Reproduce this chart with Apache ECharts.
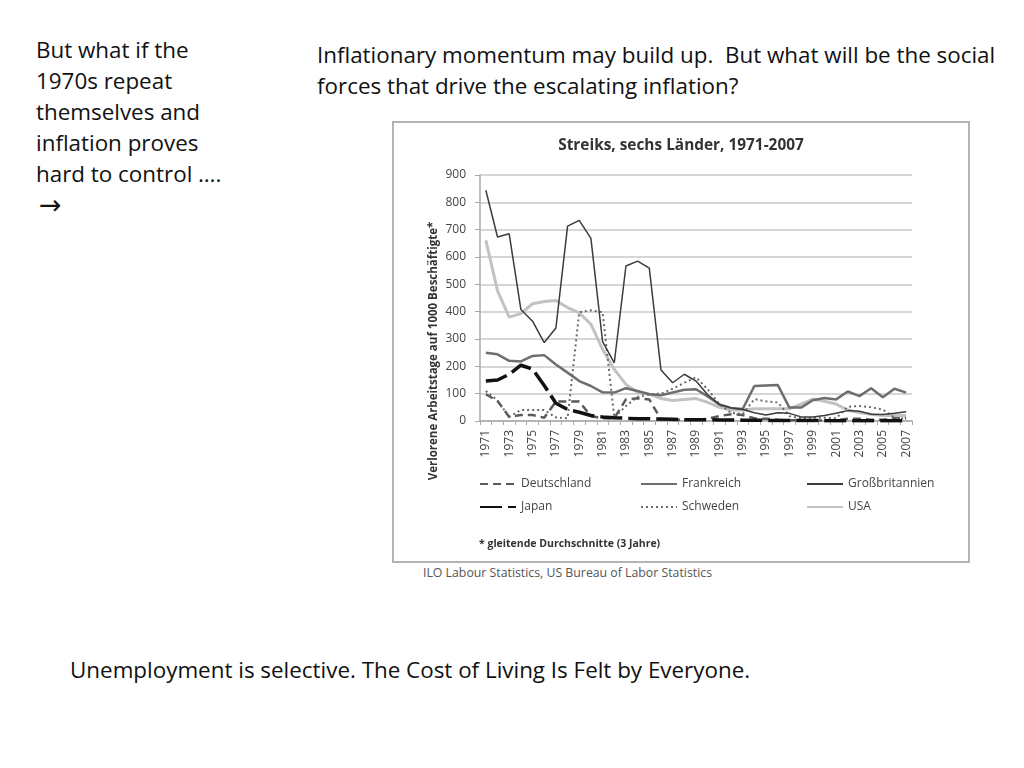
<!DOCTYPE html>
<html>
<head>
<meta charset="utf-8">
<script src="https://cdn.jsdelivr.net/npm/echarts@6/dist/echarts.min.js"></script>
<style>
html,body{margin:0;padding:0;background:#fff;width:1024px;height:768px;overflow:hidden;font-family:"Open Sans",sans-serif;color:#111;}
.t{position:absolute;font-size:22.4px;line-height:31px;white-space:nowrap;}
.arr{font-family:"DejaVu Sans",sans-serif;font-size:27px;position:relative;left:3px;}
#box{position:absolute;left:392px;top:121px;width:574px;height:438px;border:2px solid #b4b4b4;}
#chart{width:574px;height:438px;}
#src{position:absolute;left:423px;top:564px;font-size:12.3px;color:#555;}
</style>
</head>
<body>
<div class="t" style="left:36px;top:34px;">But what if the<br>1970s repeat<br>themselves and<br>inflation proves<br>hard to control ….<br><span class="arr">&#8594;</span></div>
<div class="t" style="left:317px;top:39px;">Inflationary momentum may build up.&nbsp; But what will be the social<br>forces that drive the escalating inflation?</div>
<div class="t" style="left:70px;top:654px;">Unemployment is selective. The Cost of Living Is Felt by Everyone.</div>
<div id="box"><div id="chart"></div></div>
<div id="src">ILO Labour Statistics, US Bureau of Labor Statistics</div>
<script>
const years = ['1971','1972','1973','1974','1975','1976','1977','1978','1979','1980','1981','1982','1983','1984','1985','1986','1987','1988','1989','1990','1991','1992','1993','1994','1995','1996','1997','1998','1999','2000','2001','2002','2003','2004','2005','2006','2007'];
const deutschland = [98,73,15,22,22,12,71,71,71,18,10,10,79,83,79,6,5,5,5,8,18,25,22,10,8,5,3,2,2,2,3,8,8,5,5,10,10];
const frankreich = [250,244,220,218,238,241,207,177,146,128,105,104,120,110,98,94,104,114,116,90,60,48,44,128,130,132,49,49,76,84,79,108,91,120,87,118,104];
const grossbritannien = [844,673,685,408,365,287,340,713,734,668,290,213,567,585,559,187,140,171,146,96,61,48,42,30,22,30,28,15,15,20,28,38,36,25,24,28,34];
const japan = [146,150,171,204,190,130,65,42,32,20,15,12,10,8,8,7,6,5,5,5,4,4,3,3,2,2,2,2,2,1,1,1,1,1,1,1,1];
const schweden = [110,75,15,40,40,40,13,10,398,405,398,12,55,88,98,100,118,140,160,116,62,30,25,80,72,68,18,10,12,12,10,52,55,50,42,12,8];
const usa = [661,476,380,393,429,437,441,415,396,354,262,189,134,104,98,82,75,79,82,68,50,40,40,45,45,45,45,62,80,72,62,40,30,25,20,20,20];
const yTicks = [0,100,200,300,400,500,600,700,800,900];

const chart = echarts.init(document.getElementById('chart'));
const F = '"Open Sans", sans-serif';
function s(name, data, color, width, type, z){
  return {name, type:'line', data, symbol:'none', z:z||2, lineStyle:{color, width, type}, itemStyle:{color}};
}
const legendBase = {orient:'vertical', padding:0, itemWidth:36, itemHeight:10, itemGap:11,
  itemStyle:{color:'rgba(0,0,0,0)', borderWidth:0, opacity:0},
  textStyle:{fontFamily:F, fontSize:12, color:'#444'}};
chart.setOption({
  animation:false,
  title:{text:'Streiks, sechs Länder, 1971-2007', left:'center', top:10,
    textStyle:{fontFamily:F, fontSize:15.4, fontWeight:'bold', color:'#333'}},
  grid:{left:86, right:56, top:52, height:246},
  xAxis:{type:'category', boundaryGap:true, data:years,
    axisLine:{lineStyle:{color:'#aaa', width:1.5}},
    axisTick:{show:true, interval:0, length:4, lineStyle:{color:'#aaa'}},
    axisLabel:{interval:1, rotate:90, margin:9, fontFamily:F, fontSize:12, color:'#444'}},
  yAxis:{type:'value', min:0, max:900, interval:100,
    axisLine:{show:true, lineStyle:{color:'#aaa', width:1.5}},
    axisTick:{show:true, length:5, lineStyle:{color:'#aaa'}},
    axisLabel:{margin:14, fontFamily:F, fontSize:12, color:'#444',
      formatter:v=>yTicks.includes(v)?String(v):''},
    splitLine:{lineStyle:{color:'#c8c8c8', width:1.5}}},
  legend:[
    Object.assign({}, legendBase, {left:85, top:355, data:['Deutschland','Japan']}),
    Object.assign({}, legendBase, {left:246, top:355, data:['Frankreich','Schweden']}),
    Object.assign({}, legendBase, {left:412, top:355, data:['Großbritannien','USA']})
  ],
  graphic:[
    {type:'text', x:40, y:228, rotation:Math.PI/2, style:{text:'Verlorene Arbeitstage auf 1000 Beschäftigte*',
      font:'bold 11.5px '+F, fill:'#333', textAlign:'center', textVerticalAlign:'middle'}},
    {type:'text', left:85, top:416, style:{text:'* gleitende Durchschnitte (3 Jahre)', font:'bold 10.5px '+F, fill:'#333'}}
  ],
  series:[
    s('Deutschland', deutschland, '#5a5a5a', 2.5, [8,5], 3),
    s('Frankreich', frankreich, '#6e6e6e', 2.5, 'solid', 2),
    s('Großbritannien', grossbritannien, '#3c3c3c', 1.5, 'solid', 4),
    s('Japan', japan, '#111', 3.5, [22,6], 5),
    s('Schweden', schweden, '#6a6a6a', 2, [2,3], 3),
    s('USA', usa, '#c2c2c2', 3, 'solid', 1)
  ]
});
</script>
</body>
</html>
